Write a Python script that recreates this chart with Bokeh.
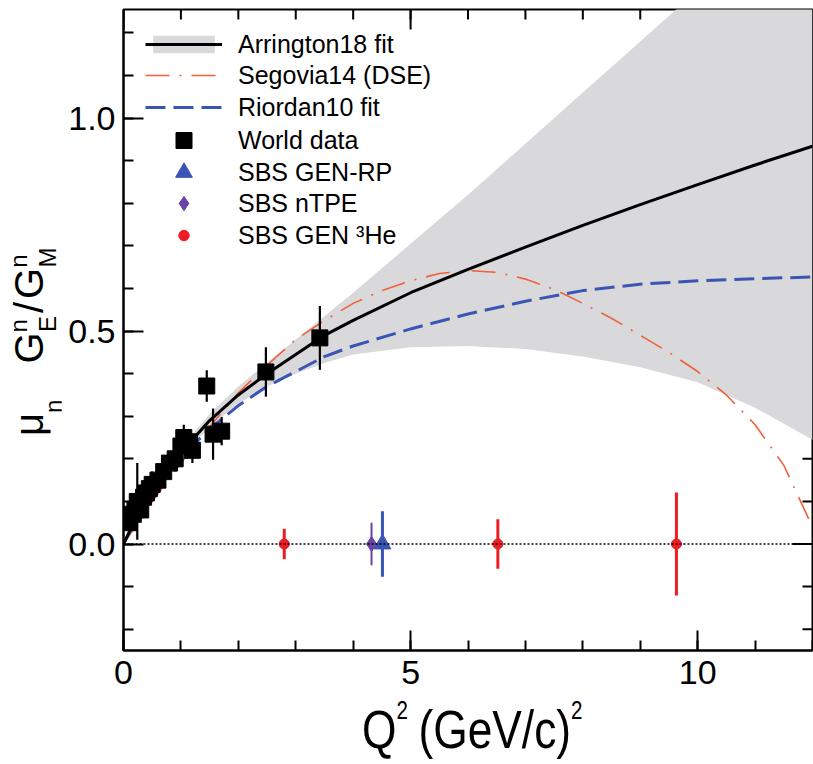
import math
from bokeh.plotting import figure
from bokeh.models import (Range1d, LinearAxis, FixedTicker, NumeralTickFormatter,
                          Legend, LegendItem, Span, Div)
from bokeh.layouts import row, column
from bokeh.embed import file_html
from bokeh.resources import INLINE

FONT = "Liberation Sans"

# ---------------- data ----------------
# Arrington18 fit and its uncertainty band
arr_q2 = [0, 0.25, 0.5, 1, 1.5, 2, 2.5, 3, 3.5, 4, 5, 6, 7, 8, 9, 10, 11, 12]
arr_fit = [0, 0.07, 0.125, 0.215, 0.29, 0.35, 0.40, 0.445, 0.49, 0.525, 0.59, 0.645, 0.697, 0.748, 0.797, 0.844, 0.89, 0.934]
band_q2 = [0, 0.5, 1, 1.5, 2, 2.5, 3, 3.5, 4, 5, 6, 7, 8, 9, 10, 11, 12]
band_hi = [0, 0.13, 0.225, 0.305, 0.37, 0.425, 0.48, 0.535, 0.59, 0.705, 0.82, 0.94, 1.06, 1.18, 1.30, 1.42, 1.54]
band_lo = [0, 0.12, 0.205, 0.275, 0.33, 0.37, 0.40, 0.425, 0.445, 0.462, 0.465, 0.458, 0.44, 0.415, 0.38, 0.32, 0.245]

# Segovia14 (DSE)
dse_q2 = [0, 0.5, 1, 1.5, 2, 2.5, 3, 3.5, 4, 4.5, 5, 5.5, 6, 6.5, 7, 7.5, 8, 8.5, 9, 9.5, 10, 10.5, 11, 11.5, 12]
dse_val = [0, 0.10, 0.19, 0.275, 0.355, 0.42, 0.48, 0.525, 0.565, 0.595, 0.618, 0.635, 0.642, 0.638, 0.622,
           0.598, 0.565, 0.53, 0.49, 0.45, 0.405, 0.35, 0.28, 0.185, 0.04]

# Riordan10 fit
rio_q2 = [0, 0.25, 0.5, 1, 1.5, 2, 2.5, 3, 3.5, 4, 5, 6, 7, 8, 9, 10, 11, 12]
rio_val = [0, 0.065, 0.12, 0.205, 0.27, 0.325, 0.37, 0.405, 0.44, 0.465, 0.505, 0.54, 0.57, 0.595, 0.61, 0.618, 0.623, 0.627]

# World data
world_q2 = [0.10, 0.15, 0.20, 0.24, 0.30, 0.35, 0.40, 0.45, 0.50, 0.60, 0.70, 0.80, 0.90, 1.00, 1.05, 1.15, 1.20,
            1.45, 1.56, 1.71, 2.48, 3.42]
world_val = [0.05, 0.07, 0.08, 0.10, 0.08, 0.11, 0.12, 0.13, 0.14, 0.15, 0.17, 0.19, 0.20, 0.23, 0.25, 0.24, 0.22,
             0.371, 0.258, 0.265, 0.404, 0.484]
world_err = [0.02, 0.02, 0.03, 0.09, 0.03, 0.03, 0.02, 0.03, 0.03, 0.02, 0.02, 0.02, 0.03, 0.03, 0.03, 0.03, 0.03,
             0.037, 0.06, 0.033, 0.058, 0.075]

# SBS projections
rp_q2, rp_val, rp_err = [4.51], [0.0], [0.077]
tpe_q2, tpe_val, tpe_err = [4.32], [0.0], [0.05]
he_q2 = [2.80, 6.52, 9.63]
he_val = [0.0, 0.0, 0.0]
he_err = [0.036, 0.058, 0.121]

x_major = [0, 5, 10]
x_minor = list(range(0, 13))
y_major = [0.0, 0.5, 1.0]
y_minor = [-0.2, -0.1, 0.0, 0.1, 0.2, 0.3, 0.4, 0.5, 0.6, 0.7, 0.8, 0.9, 1.0, 1.1, 1.2]

legend_labels = ["Arrington18 fit", "Segovia14 (DSE)", "Riordan10 fit", "World data",
                 "SBS GEN-RP", "SBS nTPE", "SBS GEN \u00b3He"]

X0, X1 = 0, 12
Y0, Y1 = -0.25, 1.255

# ---------------- layout constants ----------------
YDIV_W = 61
P_W, P_H = 752, 702
XDIV_H = 62

# ---------------- figure ----------------
p = figure(width=P_W, height=P_H, x_range=Range1d(X0, X1), y_range=Range1d(Y0, Y1),
           x_axis_type=None, y_axis_type=None, output_backend="svg", toolbar_location=None,
           min_border_left=62, min_border_right=1, min_border_top=9, min_border_bottom=52)
p.outline_line_color = "black"
p.outline_line_width = 2
p.background_fill_color = "white"
p.border_fill_color = "white"


def style_axis(ax):
    ax.axis_line_color = "black"
    ax.axis_line_width = 2
    ax.major_tick_in = 20
    ax.major_tick_out = 0
    ax.minor_tick_in = 10
    ax.minor_tick_out = 0
    ax.major_tick_line_width = 2
    ax.minor_tick_line_width = 2
    ax.major_tick_line_color = "black"
    ax.minor_tick_line_color = "black"
    ax.major_label_text_font = FONT
    ax.major_label_text_font_size = "34px"
    ax.major_label_text_color = "black"


xb = LinearAxis(ticker=FixedTicker(ticks=x_major, minor_ticks=x_minor),
                formatter=NumeralTickFormatter(format="0"))
style_axis(xb)
xb.major_label_standoff = 10
yl = LinearAxis(ticker=FixedTicker(ticks=y_major, minor_ticks=y_minor),
                formatter=NumeralTickFormatter(format="0.0"))
style_axis(yl)
yl.major_label_standoff = 8
p.add_layout(xb, "below")
p.add_layout(yl, "left")

# mirrored inward ticks on the top and right edges
p.ray(x=x_minor, y=[Y1] * len(x_minor), length=10, length_units="screen", angle=-math.pi / 2,
      line_color="black", line_width=2)
p.ray(x=x_major, y=[Y1] * len(x_major), length=20, length_units="screen", angle=-math.pi / 2,
      line_color="black", line_width=2)
p.ray(x=[X1] * len(y_minor), y=y_minor, length=10, length_units="screen", angle=math.pi,
      line_color="black", line_width=2)
p.ray(x=[X1] * len(y_major), y=y_major, length=20, length_units="screen", angle=math.pi,
      line_color="black", line_width=2)

# band + curves
r_band = p.varea(x=band_q2, y1=band_lo, y2=band_hi, fill_color="#d9d9db")
p.add_layout(Span(location=0, dimension="width", line_color="black", line_width=1.5, line_dash="2 2"))
r_dse = p.line(dse_q2, dse_val, line_color="#f0603c", line_width=1.6, line_dash="24 10 2 10")
r_rio = p.line(rio_q2, rio_val, line_color="#3a55b4", line_width=3, line_dash="20 8")
r_arr = p.line(arr_q2, arr_fit, line_color="black", line_width=3)

# world data
p.segment(x0=world_q2, x1=world_q2,
          y0=[v - e for v, e in zip(world_val, world_err)],
          y1=[v + e for v, e in zip(world_val, world_err)], line_color="black", line_width=2.2)
r_world = p.scatter(world_q2, world_val, marker="square", size=16, fill_color="black", line_color="black")

# SBS
p.segment(x0=he_q2, x1=he_q2, y0=[v - e for v, e in zip(he_val, he_err)],
          y1=[v + e for v, e in zip(he_val, he_err)], line_color="#ee1c24", line_width=3)
r_he = p.scatter(he_q2, he_val, marker="circle", size=10, fill_color="#ee1c24", line_color="#ee1c24")
p.segment(x0=tpe_q2, x1=tpe_q2, y0=[v - e for v, e in zip(tpe_val, tpe_err)],
          y1=[v + e for v, e in zip(tpe_val, tpe_err)], line_color="#6a45a8", line_width=2)
r_tpe = p.scatter(tpe_q2, tpe_val, marker="diamond", size=15, fill_color="#6a45a8", line_color="#6a45a8")
p.segment(x0=rp_q2, x1=rp_q2, y0=[v - e for v, e in zip(rp_val, rp_err)],
          y1=[v + e for v, e in zip(rp_val, rp_err)], line_color="#3a55b4", line_width=3)
r_rp = p.scatter(rp_q2, rp_val, marker="triangle", size=17, fill_color="#3a55b4", line_color="#3a55b4")

# legend: one single-row legend per entry so that each row can be placed exactly
FRAME_BOTTOM = 650   # page px of the frame bottom (frame top at 9)
rows = [
    (legend_labels[0], [r_band, r_arr], 22, 44),
    (legend_labels[1], [r_dse], 22, 75),
    (legend_labels[2], [r_rio], 22, 107),
    (legend_labels[3], [r_world], 40, 140),
    (legend_labels[4], [r_rp], 42, 172),
    (legend_labels[5], [r_tpe], 36, 203),
    (legend_labels[6], [r_he], 26, 235),
]
for lab, rends, gh, cy in rows:
    h = max(gh, 40)
    lg = Legend(items=[LegendItem(label=lab, renderers=rends)],
                location=(22, FRAME_BOTTOM - cy - h // 2))
    lg.glyph_width = 77
    lg.glyph_height = gh
    lg.label_height = 40
    lg.label_standoff = 16
    lg.spacing = 0
    lg.padding = 0
    lg.margin = 0
    lg.border_line_alpha = 0
    lg.background_fill_alpha = 0
    lg.label_text_font = FONT
    lg.label_text_font_size = "25px"
    lg.label_text_baseline = "middle"
    lg.label_text_color = "black"
    p.add_layout(lg)

# y-axis title (rotated, with stacked super/subscripts)
sub = "font-size:24px;position:relative;"
y_title_html = (
    f'<div style="position:relative;width:{YDIV_W}px;height:{P_H}px;">'
    f'<div style="position:absolute;left:0;top:0;width:{P_H}px;height:{YDIV_W}px;transform-origin:0 0;'
    f'transform:translate(0px,{P_H}px) rotate(-90deg);">'
    '<span style="position:absolute;left:266px;top:9px;white-space:nowrap;font-family:\'Liberation Sans\';'
    'font-size:40px;line-height:1;color:black;">'
    '\u03bc<span style="' + sub + 'top:19px;">n</span>'
    '<span style="margin-left:36px;">G</span>'
    '<span style="' + sub + 'top:-16px;">n</span>'
    '<span style="' + sub + 'top:13px;margin-left:-13px;">E</span>'
    '<span style="margin-left:3px;">/</span>'
    '<span style="margin-left:3px;">G</span>'
    '<span style="' + sub + 'top:-16px;">n</span>'
    '<span style="' + sub + 'top:13px;margin-left:-13px;">M</span>'
    '</span></div></div>'
)
ydiv = Div(text=y_title_html, width=YDIV_W, height=P_H, margin=0)

# x-axis title (slightly condensed, with superscripts)
sup = "font-size:25px;position:relative;top:-29px;"
x_title_html = (
    f'<div style="position:relative;width:{YDIV_W + P_W}px;height:{XDIV_H}px;">'
    '<span style="position:absolute;left:362px;top:0px;white-space:nowrap;font-family:\'Liberation Sans\';'
    'font-size:54px;line-height:1;color:black;transform-origin:0 0;transform:scaleX(0.82);display:inline-block;">'
    'Q<span style="' + sup + '">2</span>'
    '<span style="margin-left:13px;">(GeV/c)</span>'
    '<span style="' + sup + '">2</span>'
    '</span></div>'
)
xdiv = Div(text=x_title_html, width=YDIV_W + P_W, height=XDIV_H, margin=0)

layout = column(row(ydiv, p, spacing=0), xdiv, spacing=0)
open("out.html", "w").write(file_html(layout, INLINE))
